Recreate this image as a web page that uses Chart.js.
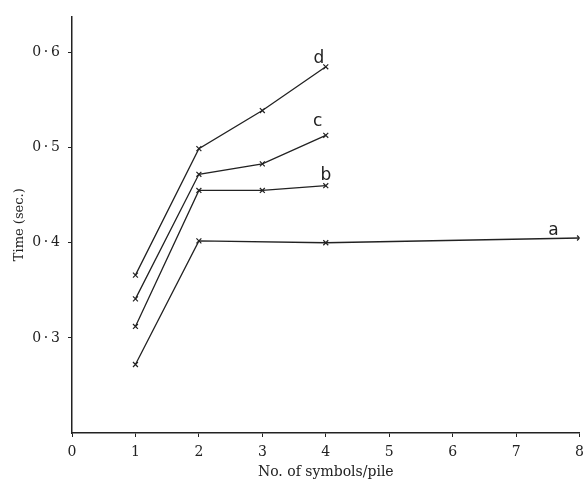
<!DOCTYPE html>
<html>
<head>
<meta charset="utf-8">
<script src="https://cdn.jsdelivr.net/npm/chart.js@4/dist/chart.umd.min.js"></script>
<style>
  html, body { margin: 0; padding: 0; background: #fff; }
  #wrap { width: 586px; height: 487px; }
</style>
</head>
<body>
<div id="wrap"><canvas id="chart" width="586" height="487"></canvas></div>
<script>
// values
const symbols = [1, 2, 3, 4]
const aX = [1, 2, 4, 8]
const aY = [0.272, 0.402, 0.400, 0.405]
const bY = [0.312, 0.455, 0.455, 0.460]
const cY = [0.341, 0.472, 0.483, 0.513]
const dY = [0.366, 0.499, 0.539, 0.585]
const yTicks = [0.3, 0.4, 0.5, 0.6]
const curveNames = ["a", "b", "c", "d"]

const toPoints = (xs, ys) => xs.map((x, i) => ({ x: x, y: ys[i] }))

const ink = "#222"

function makeSet(name, xs, ys){
    return {
        label: name,
        data: toPoints(xs, ys),
        borderColor: ink,
        borderWidth: 1.3,
        pointStyle: "crossRot",
        pointRadius: 3.5,
        pointBorderColor: ink,
        pointBorderWidth: 1.2,
        tension: 0
    }
}

// label offsets from the last point of each curve
const nameOffset = {
    a: [-26, -7],
    b: [0, -10],
    c: [-8, -14],
    d: [-7, -8]
}

const curveLabels = {
    id: "curveLabels",
    afterDatasetsDraw(chart){
        const ctx = chart.ctx
        ctx.save()
        ctx.fillStyle = ink
        ctx.font = "17px 'DejaVu Sans'"
        ctx.textAlign = "center"
        ctx.textBaseline = "middle"
        chart.data.datasets.forEach((ds, i) => {
            const pts = chart.getDatasetMeta(i).data
            const last = pts[pts.length - 1]
            const off = nameOffset[ds.label]
            ctx.fillText(ds.label, last.x + off[0], last.y + off[1])
        })
        ctx.restore()
    }
}

const serif = "'DejaVu Serif', 'Liberation Serif', serif"

new Chart(document.getElementById("chart").getContext("2d"), {
    type: "line",
    data: {
        datasets: [
            makeSet(curveNames[0], aX, aY),
            makeSet(curveNames[1], symbols, bY),
            makeSet(curveNames[2], symbols, cY),
            makeSet(curveNames[3], symbols, dY)
        ]
    },
    options: {
        responsive: false,
        animation: false,
        layout: { padding: { top: 7, right: 4, left: 0, bottom: 0 } },
        plugins: {
            legend: { display: false },
            tooltip: { enabled: false }
        },
        scales: {
            x: {
                type: "linear",
                min: 0,
                max: 8,
                border: { color: ink, width: 1.5 },
                grid: { drawOnChartArea: false, color: ink, tickLength: 4 },
                ticks: {
                    stepSize: 1,
                    color: ink,
                    padding: 2,
                    font: { family: serif, size: 14, lineHeight: 1.9 }
                },
                title: {
                    display: true,
                    text: "No. of symbols/pile",
                    color: ink,
                    padding: { top: 2, bottom: 6 },
                    font: { family: serif, size: 14 }
                },
                afterFit(scale){ scale.height = 54 }
            },
            y: {
                min: 0.2,
                max: 0.638,
                border: { color: ink, width: 1.5 },
                grid: { drawOnChartArea: false, color: ink, tickLength: 4 },
                afterBuildTicks(scale){
                    scale.ticks = yTicks.map(v => ({ value: v }))
                },
                ticks: {
                    color: ink,
                    padding: 8,
                    font: { family: serif, size: 14 },
                    callback: v => "0\u2009·\u2009" + Math.round(v * 10)
                },
                title: {
                    display: true,
                    text: "Time (sec.)",
                    color: ink,
                    padding: { top: 12, bottom: 0 },
                    font: { family: serif, size: 13 }
                },
                afterFit(scale){ scale.width = 72 }
            }
        }
    },
    plugins: [curveLabels]
})
</script>
</body>
</html>
